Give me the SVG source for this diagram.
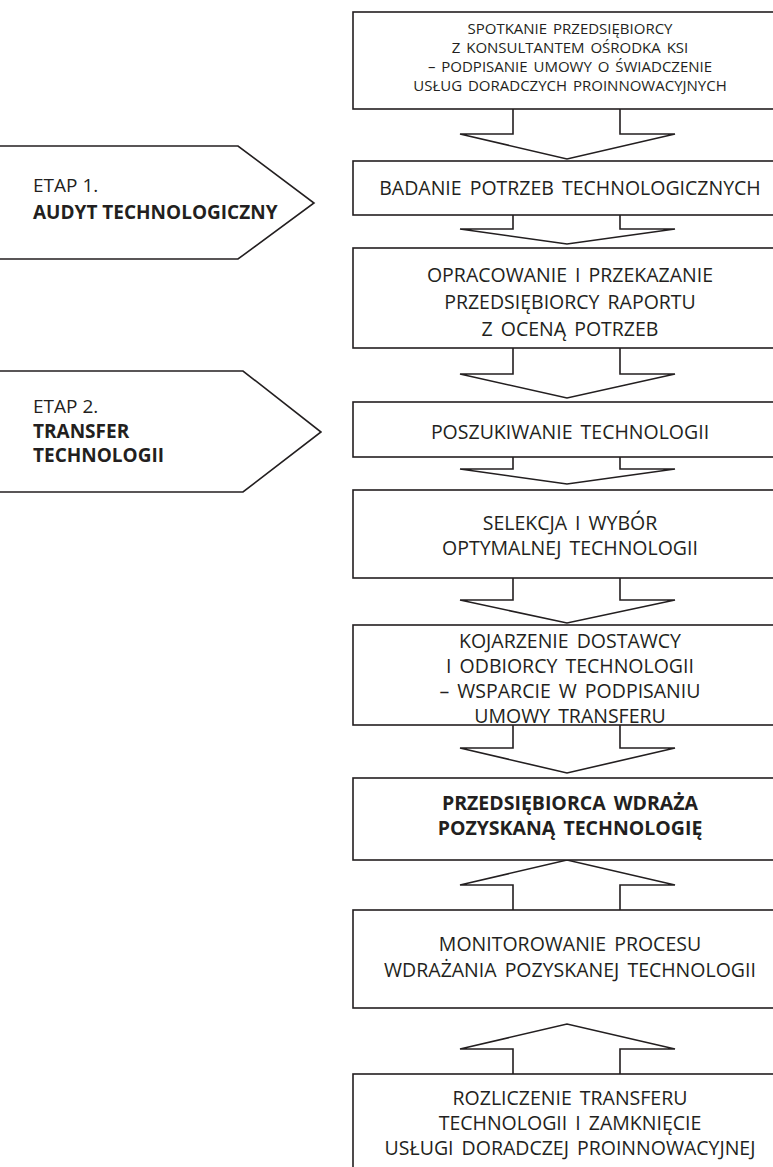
<svg xmlns="http://www.w3.org/2000/svg" width="773" height="1167" viewBox="0 0 773 1167">
<style>
.box{fill:#fff;stroke:#231f20;stroke-width:1.6}
.arr{fill:#fff;stroke:#231f20;stroke-width:1.6;stroke-linejoin:miter}
.t{font-family:"Open Sans","Liberation Sans",sans-serif;font-size:19.5px;fill:#231f20;text-anchor:middle;word-spacing:3px}
.s{font-size:15px;word-spacing:2px}
.b{font-weight:bold}
.l{font-family:"Open Sans","Liberation Sans",sans-serif;font-size:19px;fill:#231f20}
</style>
<rect width="773" height="1167" fill="#fff"/>
<g id="connectors">
<polyline class="arr" points="513,109 513,134 460,134 567,159 675,134 620,134 620,109"/>
<polyline class="arr" points="513,215 513,229 460,229 567,244 675,229 620,229 620,215"/>
<polyline class="arr" points="513,348 513,374 460,374 567,398 675,374 620,374 620,348"/>
<polyline class="arr" points="513,457 513,469 460,469 567,484 675,469 620,469 620,457"/>
<polyline class="arr" points="513,578 513,600 460,600 567,623 675,600 620,600 620,578"/>
<polyline class="arr" points="513,725 513,748 460,748 567,773 675,748 620,748 620,725"/>
<polyline class="arr" points="513,910 513,885 460,885 567,860 675,885 620,885 620,910"/>
<polyline class="arr" points="513,1074 513,1049 460,1049 567,1024 675,1049 620,1049 620,1074"/>
</g>
<g id="etap1">
<polygon class="box" points="-5,146 238,146 314,203 238,259 -5,259"/>
<text class="l" x="33" y="192">ETAP 1.</text>
<text class="l b" x="33" y="219">AUDYT TECHNOLOGICZNY</text>
</g>
<g id="etap2">
<polygon class="box" points="-5,371 243,371 321,432 243,492 -5,492"/>
<text class="l" x="33" y="413">ETAP 2.</text>
<text class="l b" x="33" y="438">TRANSFER</text>
<text class="l b" x="33" y="462">TECHNOLOGII</text>
</g>
<g id="n1">
<rect class="box" x="353" y="12" width="440" height="97"/>
<text class="t s" x="570" y="34">SPOTKANIE PRZEDSIĘBIORCY</text>
<text class="t s" x="570" y="53">Z KONSULTANTEM OŚRODKA KSI</text>
<text class="t s" x="570" y="72">– PODPISANIE UMOWY O ŚWIADCZENIE</text>
<text class="t s" x="570" y="91">USŁUG DORADCZYCH PROINNOWACYJNYCH</text>
</g>
<g id="n2">
<rect class="box" x="353" y="161" width="440" height="54"/>
<text class="t" x="570" y="195">BADANIE POTRZEB TECHNOLOGICZNYCH</text>
</g>
<g id="n3">
<rect class="box" x="353" y="248" width="440" height="100"/>
<text class="t" x="570" y="282">OPRACOWANIE I PRZEKAZANIE</text>
<text class="t" x="570" y="309">PRZEDSIĘBIORCY RAPORTU</text>
<text class="t" x="570" y="336">Z OCENĄ POTRZEB</text>
</g>
<g id="n4">
<rect class="box" x="353" y="402" width="440" height="55"/>
<text class="t" x="570" y="439">POSZUKIWANIE TECHNOLOGII</text>
</g>
<g id="n5">
<rect class="box" x="353" y="490" width="440" height="88"/>
<text class="t" x="570" y="530">SELEKCJA I WYBÓR</text>
<text class="t" x="570" y="555">OPTYMALNEJ TECHNOLOGII</text>
</g>
<g id="n6">
<rect class="box" x="353" y="625" width="440" height="100"/>
<text class="t" x="570" y="648">KOJARZENIE DOSTAWCY</text>
<text class="t" x="570" y="673">I ODBIORCY TECHNOLOGII</text>
<text class="t" x="570" y="698">– WSPARCIE W PODPISANIU</text>
<text class="t" x="570" y="723">UMOWY TRANSFERU</text>
</g>
<g id="n7">
<rect class="box" x="353" y="778" width="440" height="82"/>
<text class="t b" x="570" y="810">PRZEDSIĘBIORCA WDRAŻA</text>
<text class="t b" x="570" y="835">POZYSKANĄ TECHNOLOGIĘ</text>
</g>
<g id="n8">
<rect class="box" x="353" y="910" width="440" height="98"/>
<text class="t" x="570" y="951">MONITOROWANIE PROCESU</text>
<text class="t" x="570" y="977">WDRAŻANIA POZYSKANEJ TECHNOLOGII</text>
</g>
<g id="n9">
<rect class="box" x="353" y="1074" width="440" height="110"/>
<text class="t" x="570" y="1105">ROZLICZENIE TRANSFERU</text>
<text class="t" x="570" y="1130">TECHNOLOGII I ZAMKNIĘCIE</text>
<text class="t" x="570" y="1155">USŁUGI DORADCZEJ PROINNOWACYJNEJ</text>
</g>
</svg>
